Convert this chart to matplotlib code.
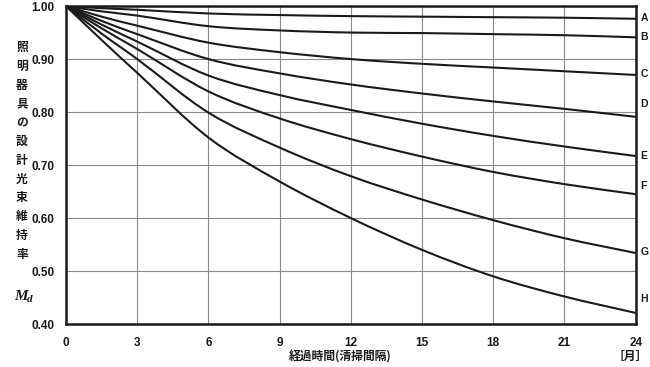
import numpy as np
import matplotlib
matplotlib.use("Agg")
import matplotlib.pyplot as plt
from matplotlib.path import Path
from matplotlib.patches import PathPatch

plt.rcParams['font.family'] = ['Liberation Sans', 'Noto Sans CJK JP', 'DejaVu Sans']

# elapsed months and maintenance factor readings for curves A..H
months = [0, 1.5, 3, 6, 9, 12, 15, 18, 21, 24]
curve_a = [1.0, 0.996, 0.993, 0.986, 0.983, 0.981, 0.980, 0.979, 0.978, 0.976]
curve_b = [1.0, 0.990, 0.982, 0.962, 0.954, 0.950, 0.949, 0.947, 0.945, 0.941]
curve_c = [1.0, 0.980, 0.963, 0.931, 0.913, 0.900, 0.891, 0.884, 0.877, 0.870]
curve_d = [1.0, 0.972, 0.947, 0.900, 0.873, 0.852, 0.835, 0.820, 0.806, 0.791]
curve_e = [1.0, 0.965, 0.933, 0.869, 0.832, 0.804, 0.778, 0.755, 0.735, 0.717]
curve_f = [1.0, 0.958, 0.919, 0.839, 0.788, 0.749, 0.716, 0.687, 0.664, 0.645]
curve_g = [1.0, 0.948, 0.900, 0.799, 0.733, 0.679, 0.635, 0.596, 0.562, 0.534]
curve_h = [1.0, 0.936, 0.874, 0.752, 0.669, 0.600, 0.540, 0.490, 0.452, 0.421]
curve_names = ['A', 'B', 'C', 'D', 'E', 'F', 'G', 'H']

x_ticks = [0, 3, 6, 9, 12, 15, 18, 21, 24]
y_ticks = [0.40, 0.50, 0.60, 0.70, 0.80, 0.90, 1.00]
y_title = '照明器具の設計光束維持率'
x_title = '経過時間(清掃間隔)'

curves = [curve_a, curve_b, curve_c, curve_d, curve_e, curve_f, curve_g, curve_h]
# where the letter sits at the right edge (a few are nudged off their line)
label_y = [0.978, 0.942, 0.872, 0.815, 0.717, 0.660, 0.536, 0.447]


def smooth_path(xs, ys):
    # cubic bezier through the read points (catmull-rom style handles)
    xs = np.asarray(xs, float)
    ys = np.asarray(ys, float)
    n = len(xs)
    verts = [(xs[0], ys[0])]
    codes = [Path.MOVETO]
    for i in range(n - 1):
        i0 = max(i - 1, 0)
        i3 = min(i + 2, n - 1)
        h = xs[i + 1] - xs[i]
        m1 = (ys[i + 1] - ys[i0]) / (xs[i + 1] - xs[i0])
        m2 = (ys[i3] - ys[i]) / (xs[i3] - xs[i])
        verts += [(xs[i] + h / 3, ys[i] + m1 * h / 3),
                  (xs[i + 1] - h / 3, ys[i + 1] - m2 * h / 3),
                  (xs[i + 1], ys[i + 1])]
        codes += [Path.CURVE4] * 3
    return Path(verts, codes)


fig = plt.figure(figsize=(6.5, 3.67), dpi=100)
ax = fig.add_axes([0.1015, 0.117, 0.8765, 0.8665])

for ys in curves:
    ax.add_patch(PathPatch(smooth_path(months, ys), facecolor='none',
                           edgecolor='#1a1a1a', linewidth=1.5, zorder=3))

ax.set_xlim(0, 24)
ax.set_ylim(0.40, 1.00)
ax.set_xticks(x_ticks)
ax.set_yticks(y_ticks)
ax.set_xticklabels([str(t) for t in x_ticks])
ax.set_yticklabels(['%.2f' % t for t in y_ticks])
ax.grid(True, color='#8a8a8a', linewidth=0.8)
ax.tick_params(axis='x', length=0, labelsize=8.5, pad=9, colors='#1a1a1a')
ax.tick_params(axis='y', length=0, labelsize=8.5, pad=8, colors='#1a1a1a')
for lab in ax.get_xticklabels() + ax.get_yticklabels():
    lab.set_fontweight('bold')
for sp in ax.spines.values():
    sp.set_linewidth(1.8)
    sp.set_color('#1a1a1a')
    sp.set_zorder(4)

for name, yl in zip(curve_names, label_y):
    ax.text(24.2, yl, name, fontsize=7.5, fontweight='bold', va='center', ha='left',
            color='#1a1a1a', clip_on=False)

fig.text(22 / 650, 1 - 151 / 367, '\n'.join(y_title), fontsize=8.5, fontweight='bold',
         ha='center', va='center', linespacing=1.58, color='#1a1a1a',
         family=['Noto Sans CJK JP', 'DejaVu Sans'])
fig.text(21 / 650, 1 - 297 / 367, 'M', fontsize=11, fontweight='bold', style='italic',
         ha='center', va='center', color='#1a1a1a', family='Liberation Serif')
fig.text(30 / 650, 1 - 300 / 367, 'd', fontsize=8, fontweight='bold', style='italic',
         ha='center', va='center', color='#1a1a1a', family='Liberation Serif')
fig.text(340 / 650, 1 - 357 / 367, x_title, fontsize=8.5, fontweight='bold',
         ha='center', va='center', color='#1a1a1a',
         family=['Noto Sans CJK JP', 'DejaVu Sans'])
fig.text(630 / 650, 1 - 356 / 367, '［月］', fontsize=8.5, fontweight='bold',
         ha='center', va='center', color='#1a1a1a',
         family=['Noto Sans CJK JP', 'DejaVu Sans'])

fig.savefig('out.png', dpi=100)
